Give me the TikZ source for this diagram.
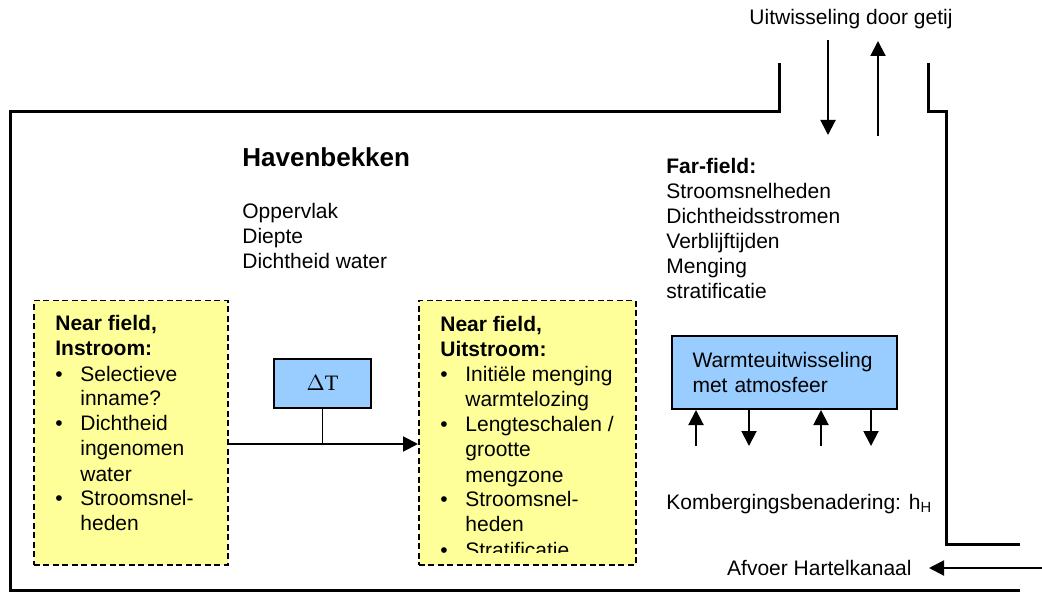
\documentclass[tikz,border=0pt]{standalone}
\usepackage{fontspec}
\setmainfont{Liberation Sans}
\newfontfamily\deltafont{Liberation Serif}
\usepackage{xcolor}
\usetikzlibrary{arrows.meta}

\definecolor{nearyellow}{HTML}{FFFF99}
\definecolor{heatblue}{HTML}{99CCFF}

\begin{document}
\begin{tikzpicture}[
  x=0.5pt,y=-0.5pt,
  font=\fontsize{10.5}{12.5}\selectfont,
  wall/.style={line width=1.5pt,line cap=rect},
  nearfield/.style={draw,dash pattern=on 3pt off 1.75pt,line width=0.75pt,fill=nearyellow,
    anchor=north west,minimum height=132pt,inner sep=0pt},
  heatbox/.style={draw,line width=1pt,fill=heatblue,inner sep=0pt},
  to/.style={-{Triangle[length=7.5pt,width=7.5pt]},line width=1pt},
  list/.style={anchor=base west,inner sep=0pt}]

  \useasboundingbox (0,0) rectangle (1042,592);

  % Walls of the harbour basin
  \draw[wall] (779,65) -- (779,112) -- (10,112) -- (10,590) -- (1018,590);
  \draw[wall] (928,65) -- (928,112) -- (946,112) -- (946,544) -- (1018,544);

  % Texts in the basin
  \node[anchor=base] (getij) at (851,25) {Uitwisseling door getij};
  \node[list,font=\fontsize{13}{15}\selectfont\bfseries] (haven) at (242,167) {Havenbekken};
  \node[list] (props) at (242,219) {\baselineskip=11.75pt
    \begin{tabular}[t]{@{}l@{}}Oppervlak\\ Diepte\\ Dichtheid water\end{tabular}};
  \node[list] (far) at (666,174) {\baselineskip=11.9pt
    \begin{tabular}[t]{@{}l@{}}\textbf{Far-field:}\\ Stroomsnelheden\\ Dichtheidsstromen\\
    Verblijftijden\\ Menging\\ stratificatie\end{tabular}};

  % Near field boxes
  \node[nearfield,minimum width=97pt] (nfin) at (33,300) {};
  \node[list] (nfintxt) at (55,331) {\begin{tabular}[t]{@{}p{12.5pt}@{}l@{}}
    \multicolumn{2}{@{}l@{}}{\bfseries Near field,}\\
    \multicolumn{2}{@{}l@{}}{\bfseries Instroom:}\\
    \textbullet & Selectieve\\ & inname?\\
    \textbullet & Dichtheid\\ & ingenomen\\ & water\\
    \textbullet & Stroomsnel-\\ & heden\end{tabular}};

  \node[nearfield,minimum width=108.5pt] (nfuit) at (418,300) {};
  \begin{scope}
    \clip (nfuit.north west) rectangle ([yshift=6.5pt]nfuit.south east);
    \node[list] (nfuittxt) at (440,332) {\begin{tabular}[t]{@{}p{12.5pt}@{}l@{}}
      \multicolumn{2}{@{}l@{}}{\bfseries Near field,}\\
      \multicolumn{2}{@{}l@{}}{\bfseries Uitstroom:}\\
      \textbullet & Initiële menging\\ & warmtelozing\\
      \textbullet & Lengteschalen /\\ & grootte\\ & mengzone\\
      \textbullet & Stroomsnel-\\ & heden\\
      \textbullet & Stratificatie\end{tabular}};
  \end{scope}

  % Temperature step between intake and outflow
  \node[heatbox,minimum width=48.5pt,minimum height=24.5pt,font=\deltafont\fontsize{11}{12.5}\selectfont] (dT) at (322.5,383.5) {$\Delta$T};
  \coordinate (join) at (322.5,444);
  \draw[to] (nfin.east |- join) -- (nfuit.west |- join);
  \draw[line width=0.75pt] (dT) -- (join);

  % Heat exchange with the atmosphere
  \node[heatbox,anchor=north west,minimum width=112.5pt,minimum height=36.5pt,
    text width=92pt,inner xsep=10.25pt,align=left] (heat) at (671,335)
    {Warmteuitwisseling\\ met atmosfeer};
  \foreach \x in {696,749,821,871}
    \coordinate (a\x) at (\x,446);
  \draw[to] (a696) -- (a696 |- heat.south);
  \draw[to] (heat.south -| a749) -- (a749);
  \draw[to] (a821) -- (a821 |- heat.south);
  \draw[to] (heat.south -| a871) -- (a871);

  \node[list] (komb) at (666,509) {Kombergingsbenadering: h\textsubscript{H}};

  % Tide and discharge
  \coordinate (tidein) at (828,40);
  \coordinate (tidein') at (828,135);
  \coordinate (tideout) at (878,136);
  \coordinate (tideout') at (878,41);
  \draw[to] (tidein) -- (tidein');
  \draw[to] (tideout) -- (tideout');

  \node[anchor=base east,inner sep=0pt] (afvoer) at (912,575) {Afvoer Hartelkanaal};
  \coordinate (kanaal) at (1042,568);
  \draw[to] (kanaal) -- ([xshift=8.5pt]afvoer.east |- kanaal);
\end{tikzpicture}
\end{document}
